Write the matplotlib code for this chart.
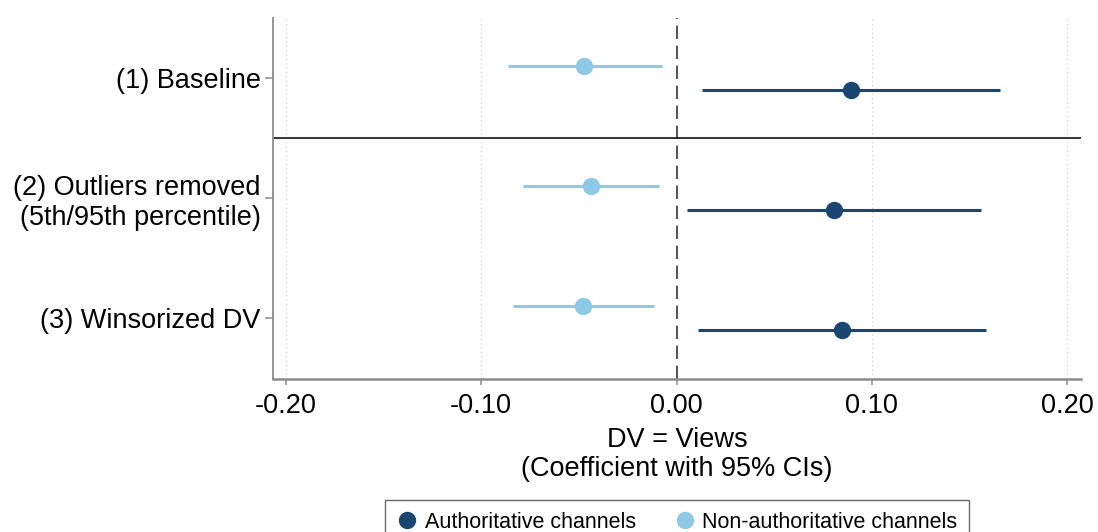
"""coefficient plot: views, authoritative vs non-authoritative channels"""

import matplotlib
matplotlib.use("Agg")
import matplotlib.pyplot as plt
from matplotlib.lines import Line2D
import numpy as np

plt.rcParams['font.family'] = ['Liberation Sans', 'DejaVu Sans']

# models, top to bottom
models = ["(1) Baseline",
          "(2) Outliers removed\n(5th/95th percentile)",
          "(3) Winsorized DV"]

# authoritative channels: coefficient and 95% CI
auth_coef = [0.0894, 0.0805, 0.0849]
auth_lo = [0.0132, 0.0054, 0.0112]
auth_hi = [0.1656, 0.1557, 0.1585]

# non-authoritative channels
nonauth_coef = [-0.0473, -0.0440, -0.0476]
nonauth_lo = [-0.0864, -0.0788, -0.0839]
nonauth_hi = [-0.0074, -0.0089, -0.0115]

xticks = [-0.2, -0.1, 0.0, 0.1, 0.2]

dark = "#1b4672"
light = "#8fc9e6"
axis_grey = "#8c8c8c"

fig = plt.figure(figsize=(10.98, 5.32), dpi=100)
ax = fig.add_axes([273 / 1098, 1 - 378.5 / 532, (1081 - 273) / 1098, (378.5 - 18.3) / 532])

pos = np.arange(1, len(models) + 1)

# grid + reference lines
for t in xticks:
    if t != 0:
        ax.axvline(t, color="#cfcfcf", lw=0.9, ls=(0, (1, 2.5)), zorder=0)
ax.axvline(0, color="#333333", lw=1.2, ls=(0, (8, 4)), zorder=1)
ax.axhline(1.5, color="#111111", lw=1.2, zorder=1)

# CIs and points
ax.hlines(pos - 0.1, nonauth_lo, nonauth_hi, color=light, lw=2.2, zorder=2)
ax.plot(nonauth_coef, pos - 0.1, "o", color=light, ms=11.5, zorder=3)
ax.hlines(pos + 0.1, auth_lo, auth_hi, color=dark, lw=2.2, zorder=2)
ax.plot(auth_coef, pos + 0.1, "o", color=dark, ms=11.5, zorder=3)

ax.set_ylim(3.5, 0.5)
ax.set_xlim(-0.2065, 0.207)
ax.set_yticks(pos)
ax.set_yticklabels(models, fontsize=19.5, linespacing=1.2)
ax.set_xticks(xticks)
ax.set_xticklabels(["%.2f" % t for t in xticks], fontsize=19.5)

for s in ["top", "right"]:
    ax.spines[s].set_visible(False)
ax.spines["left"].set_color(axis_grey)
ax.spines["left"].set_linewidth(1.3)
ax.spines["bottom"].set_color(axis_grey)
ax.spines["bottom"].set_linewidth(1.8)
ax.tick_params(axis="y", length=5.5, width=1.1, color=axis_grey, pad=3.5)
ax.tick_params(axis="x", length=4.5, width=1.1, color=axis_grey, pad=6)

ax.set_xlabel("DV = Views\n(Coefficient with 95% CIs)", fontsize=19.5,
              linespacing=1.15, labelpad=6)

handles = [Line2D([], [], ls="none", marker="o", ms=11.5, color=dark),
           Line2D([], [], ls="none", marker="o", ms=11.5, color=light)]
fig.legend(handles, ["Authoritative channels", "Non-authoritative channels"],
           loc="upper center", bbox_to_anchor=(677 / 1098, 1 - 500 / 532),
           borderaxespad=0, ncol=2, fontsize=15.5, frameon=True, fancybox=False,
           edgecolor="#444444", handletextpad=0.3, columnspacing=1.8,
           borderpad=0.55, handlelength=1.0)

fig.savefig("out.png", dpi=100)
